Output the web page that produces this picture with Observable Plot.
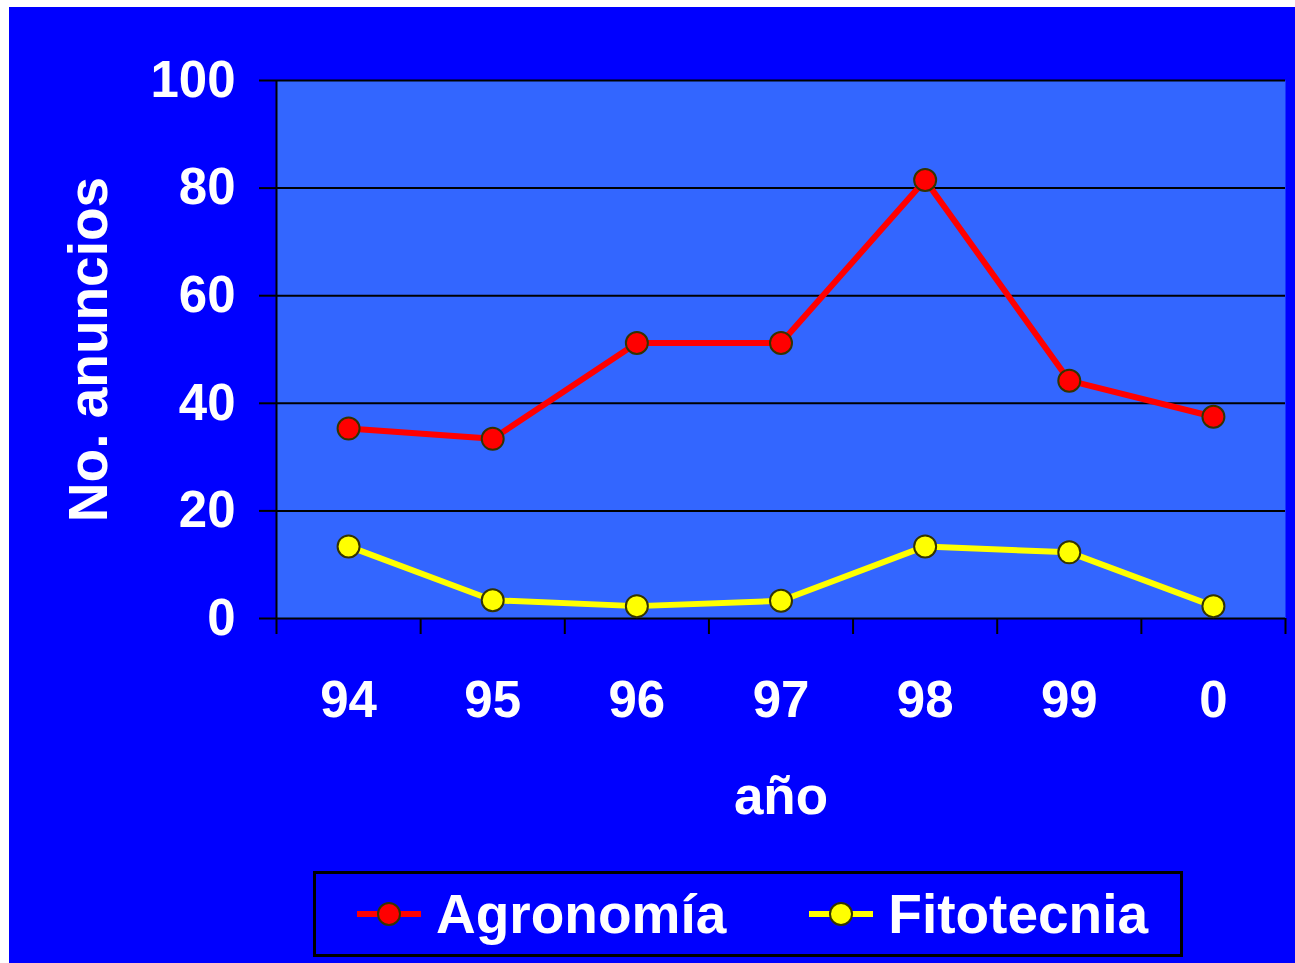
<!DOCTYPE html>
<html>
<head>
<meta charset="utf-8">
<script src="https://cdn.jsdelivr.net/npm/d3@7"></script>
<script src="https://cdn.jsdelivr.net/npm/@observablehq/plot@0.6"></script>
<style>
  html, body { margin: 0; padding: 0; background: #ffffff; }
  body { width: 1295px; height: 963px; position: relative; overflow: hidden; font-family: "Liberation Sans", Arial, sans-serif; }
  #chart { position: absolute; left: 9px; top: 7px; }
  #legend { position: absolute; left: 313px; top: 871px; width: 870px; height: 86px; border: 3px solid #000; display: flex; align-items: center; padding-left: 41px; box-sizing: border-box; }
  #legend .item { display: flex; align-items: center; color: #fff; font-weight: bold; font-size: 55px; margin-right: 83px; white-space: nowrap; }
  #legend svg { margin-right: 15px; }
</style>
</head>
<body>
<div id="chart"></div>
<div id="legend"></div>
<script>
// ---- data ----
const years = ["94", "95", "96", "97", "98", "99", "0"];
const seriesNames = ["Agronomía", "Fitotecnia"];
const agronomia = [35.3, 33.4, 51.2, 51.2, 81.5, 44.2, 37.5];
const fitotecnia = [13.4, 3.4, 2.3, 3.3, 13.4, 12.3, 2.3];
const yTicks = [0, 20, 40, 60, 80, 100];
const seriesColors = ["#FF0000", "#FFFF00"];

const rows = years.flatMap((y, i) => [
  {i, v: agronomia[i], s: seriesNames[0]},
  {i, v: fitotecnia[i], s: seriesNames[1]}
]);

const boundaries = d3.range(years.length + 1).map(k => k - 0.5);
const centers = d3.range(years.length);

const chart = Plot.plot({
  width: 1286,
  height: 956,
  marginLeft: 267,
  marginTop: 73,
  marginRight: 10,
  marginBottom: 345,
  style: {background: "#0000FF", fontFamily: "Liberation Sans, Arial, sans-serif", fontWeight: "bold", overflow: "visible"},
  x: {domain: [-0.5, years.length - 0.5]},
  y: {domain: [0, 100]},
  color: {domain: seriesNames, range: seriesColors},
  marks: [
    Plot.frame({fill: "#3366FF", stroke: null}),
    Plot.ruleY(yTicks, {stroke: "#000", strokeWidth: 2}),
    Plot.ruleX([-0.5], {stroke: "#000", strokeWidth: 2}),
    Plot.axisY({ticks: yTicks, tickSize: 17, tickPadding: 24, fontSize: 51, stroke: "#000", strokeWidth: 2, fill: "#fff",
      label: "No. anuncios", labelAnchor: "center", labelOffset: 209, labelArrow: "none"}),
    Plot.axisX({ticks: boundaries, tickSize: 16, stroke: "#000", strokeWidth: 2, tickFormat: () => "", label: null}),
    Plot.axisX({ticks: centers, tickSize: 0, tickPadding: 62, fontSize: 51, fill: "#fff", tickFormat: i => years[i],
      label: "año", labelAnchor: "center", labelOffset: 195, labelArrow: "none"}),
    Plot.line(rows, {x: "i", y: "v", z: "s", stroke: "s", strokeWidth: 6}),
    Plot.dot(rows, {x: "i", y: "v", fill: "s", r: 11, stroke: "#333300", strokeWidth: 2})
  ]
});
chart.querySelectorAll("text").forEach(t => t.setAttribute("fill", "#fff"));
chart.querySelectorAll('[aria-label="y-axis label"]').forEach(g => g.setAttribute("font-size", 55));
chart.querySelectorAll('[aria-label="x-axis label"]').forEach(g => g.setAttribute("font-size", 53));
document.getElementById("chart").appendChild(chart);

// legend
const legend = d3.select("#legend");
seriesNames.forEach((name, k) => {
  const item = legend.append("div").attr("class", "item");
  const svg = item.append("svg").attr("width", 64).attr("height", 26);
  svg.append("line").attr("x1", 0).attr("x2", 64).attr("y1", 13).attr("y2", 13)
    .attr("stroke", seriesColors[k]).attr("stroke-width", 6);
  svg.append("circle").attr("cx", 32).attr("cy", 13).attr("r", 11)
    .attr("fill", seriesColors[k]).attr("stroke", "#333300").attr("stroke-width", 2);
  item.append("span").text(name);
});
</script>
</body>
</html>
